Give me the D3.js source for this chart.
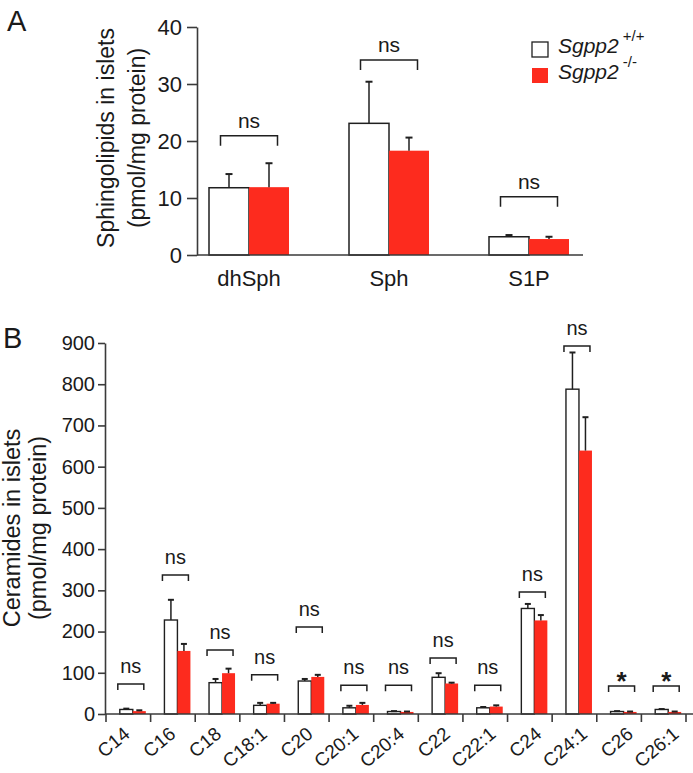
<!DOCTYPE html>
<html><head><meta charset="utf-8">
<script src="https://cdn.jsdelivr.net/npm/d3@7"></script>
<style>
body{margin:0;background:#fff;}
svg{display:block;}
text{font-family:"Liberation Sans",Arial,sans-serif;fill:#1a1a1a;}
</style></head><body>
<script>
// ---------- Panel A data ----------
const groupsA = ["dhSph", "Sph", "S1P"];
const wtA = [11.8, 23.1, 3.2];
const wtErrA = [2.4, 7.3, 0.3];
const koA = [11.9, 18.3, 2.8];
const koErrA = [4.2, 2.3, 0.4];
const bracketA = [20.9, 34.2, 10.2];
const sigA = ["ns", "ns", "ns"];
const ticksA = [0, 10, 20, 30, 40];

// ---------- Panel B data ----------
const catsB = ["C14", "C16", "C18", "C18:1", "C20", "C20:1", "C20:4", "C22", "C22:1", "C24", "C24:1", "C26", "C26:1"];
const wtB = [11, 228, 76, 21, 80, 15, 6, 89, 15, 256, 788, 6, 11];
const wtErrB = [2, 49, 9, 6, 5, 5, 1, 10, 2, 11, 89, 1, 1];
const koB = [7, 153, 99, 25, 90, 22, 5, 74, 18, 227, 639, 5, 5];
const koErrB = [2, 17, 11, 2, 5, 5, 1, 2, 3, 13, 81, 1, 1];
const bracketB = [73, 337, 155, 95, 211, 70, 70, 136, 70, 296, 893, 68, 68];
const sigB = ["ns", "ns", "ns", "ns", "ns", "ns", "ns", "ns", "ns", "ns", "ns", "*", "*"];
const ticksB = [0, 100, 200, 300, 400, 500, 600, 700, 800, 900];

const legendLabels = ["+/+", "-/-"];

const RED = "#fd2b1e";
const AX = "#3a3a3a";
const INK = "#1f1f1f";

const svg = d3.select("body").append("svg").attr("width", 693).attr("height", 773);

// ================= Panel A =================
const yA = d3.scaleLinear().domain([0, 40]).range([255, 27]);
const xA = d3.scaleBand().domain(groupsA).range([179, 599]);
const cA = g => xA(g) + xA.bandwidth() / 2;
const bwA = 40;

const gA = svg.append("g");
gA.selectAll("rect.wt").data(groupsA).join("rect")
  .attr("x", (d) => cA(d) - bwA).attr("width", bwA)
  .attr("y", (d, i) => yA(wtA[i])).attr("height", (d, i) => yA(0) - yA(wtA[i]))
  .attr("fill", "#fff").attr("stroke", INK).attr("stroke-width", 1.5);
gA.selectAll("rect.ko").data(groupsA).join("rect")
  .attr("x", (d) => cA(d)).attr("width", bwA)
  .attr("y", (d, i) => yA(koA[i])).attr("height", (d, i) => yA(0) - yA(koA[i]))
  .attr("fill", RED);
function errBar(g, cx, yTop, yErr, cap) {
  g.append("line").attr("x1", cx).attr("x2", cx).attr("y1", yTop).attr("y2", yErr)
    .attr("stroke", INK).attr("stroke-width", 1.5);
  g.append("line").attr("x1", cx - cap).attr("x2", cx + cap).attr("y1", yErr).attr("y2", yErr)
    .attr("stroke", INK).attr("stroke-width", 2);
}
groupsA.forEach((d, i) => {
  errBar(gA, cA(d) - bwA / 2, yA(wtA[i]), yA(wtA[i] + wtErrA[i]), 3.5);
  errBar(gA, cA(d) + bwA / 2, yA(koA[i]), yA(koA[i] + koErrA[i]), 3.5);
});
const axA = gA.append("g").attr("transform", "translate(197,0)")
  .call(d3.axisLeft(yA).tickValues(ticksA).tickSize(10).tickSizeOuter(0).tickPadding(5));
axA.select(".domain").attr("stroke", AX).attr("stroke-width", 1.6);
axA.selectAll(".tick line").attr("stroke", AX).attr("stroke-width", 1.6);
axA.selectAll(".tick text").attr("font-size", 22).attr("font-family", "Liberation Sans, Arial, sans-serif").attr("fill", "#1a1a1a");
gA.append("line").attr("x1", 197).attr("x2", 583).attr("y1", yA(0)).attr("y2", yA(0))
  .attr("stroke", AX).attr("stroke-width", 1.6);
gA.selectAll("text.cat").data(groupsA).join("text")
  .attr("x", d => cA(d)).attr("y", 286).attr("text-anchor", "middle").attr("font-size", 22).text(d => d);
groupsA.forEach((d, i) => {
  const cx = cA(d), yb = yA(bracketA[i]), hw = 28.5;
  gA.append("path").attr("d", `M${cx - hw},${yb + 10}V${yb}H${cx + hw}V${yb + 10}`)
    .attr("fill", "none").attr("stroke", INK).attr("stroke-width", 1.5);
  gA.append("text").attr("x", cx).attr("y", yb - 8).attr("text-anchor", "middle")
    .attr("font-size", 21).text(sigA[i]);
});
gA.append("text").attr("transform", "translate(114,138) rotate(-90)").attr("text-anchor", "middle")
  .attr("font-size", 23).text("Sphingolipids in islets");
gA.append("text").attr("transform", "translate(145,138) rotate(-90)").attr("text-anchor", "middle")
  .attr("font-size", 23).text("(pmol/mg protein)");
svg.append("text").attr("x", 7).attr("y", 31).attr("font-size", 29).text("A");
const legY = [42, 68];
legendLabels.forEach((lab, i) => {
  svg.append("rect").attr("x", 532).attr("y", legY[i]).attr("width", 16).attr("height", 15)
    .attr("fill", i === 0 ? "#fff" : RED).attr("stroke", i === 0 ? INK : "none").attr("stroke-width", 1.3);
  const t = svg.append("text").attr("x", 558).attr("y", legY[i] + 11).attr("font-size", 21);
  t.append("tspan").attr("font-style", "italic").text("Sgpp2");
  t.append("tspan").attr("dx", 4).attr("dy", -12).attr("font-size", 15).text(lab);
});

// ================= Panel B =================
const yB = d3.scaleLinear().domain([0, 900]).range([714, 343]);
const xB = d3.scaleBand().domain(catsB).range([106, 686]);
const xLab = d3.scalePoint().domain(catsB).range([131, 680]);
const cB = c => xB(c) + xB.bandwidth() / 2 + 4.5;
const bwB = 13;
const gB = svg.append("g");

gB.selectAll("rect.wt").data(catsB).join("rect")
  .attr("x", d => cB(d) - bwB).attr("width", bwB)
  .attr("y", (d, i) => yB(wtB[i])).attr("height", (d, i) => yB(0) - yB(wtB[i]))
  .attr("fill", "#fff").attr("stroke", INK).attr("stroke-width", 1.4);
gB.selectAll("rect.ko").data(catsB).join("rect")
  .attr("x", d => cB(d)).attr("width", bwB)
  .attr("y", (d, i) => yB(koB[i])).attr("height", (d, i) => yB(0) - yB(koB[i]))
  .attr("fill", RED);
catsB.forEach((d, i) => {
  errBar(gB, cB(d) - bwB / 2, yB(wtB[i]), yB(wtB[i] + wtErrB[i]), 3);
  errBar(gB, cB(d) + bwB / 2, yB(koB[i]), yB(koB[i] + koErrB[i]), 3);
});
const axB = gB.append("g").attr("transform", "translate(105,0)")
  .call(d3.axisLeft(yB).tickValues(ticksB).tickSize(7).tickSizeOuter(0).tickPadding(3));
axB.select(".domain").attr("stroke", AX).attr("stroke-width", 1.6);
axB.selectAll(".tick line").attr("stroke", AX).attr("stroke-width", 1.6);
axB.selectAll(".tick text").attr("font-size", 20).attr("font-family", "Liberation Sans, Arial, sans-serif").attr("fill", "#1a1a1a");
gB.append("line").attr("x1", 105).attr("x2", 693).attr("y1", yB(0)).attr("y2", yB(0))
  .attr("stroke", AX).attr("stroke-width", 1.6);
const tickXs = catsB.map(c => xB(c)).concat([xB.range()[1]]);
gB.selectAll("line.xt").data(tickXs).join("line")
  .attr("x1", d => d).attr("x2", d => d).attr("y1", yB(0)).attr("y2", yB(0) + 8)
  .attr("stroke", AX).attr("stroke-width", 1.6);
gB.selectAll("text.xl").data(catsB).join("text")
  .attr("transform", d => `translate(${xLab(d)},736) rotate(-40)`)
  .attr("text-anchor", "end").attr("font-size", 19).text(d => d);
catsB.forEach((d, i) => {
  const cx = cB(d) - 2, yb = yB(bracketB[i]), hw = 13;
  gB.append("path").attr("d", `M${cx - hw},${yb + 6}V${yb}H${cx + hw}V${yb + 6}`)
    .attr("fill", "none").attr("stroke", INK).attr("stroke-width", 1.5);
  if (sigB[i] === "*") {
    gB.append("text").attr("x", cx).attr("y", yb + 4).attr("text-anchor", "middle")
      .attr("font-size", 26).attr("font-weight", "bold").text("*");
  } else {
    gB.append("text").attr("x", cx).attr("y", yb - 11).attr("text-anchor", "middle")
      .attr("font-size", 20).text(sigB[i]);
  }
});
gB.append("text").attr("transform", "translate(20,528) rotate(-90)").attr("text-anchor", "middle")
  .attr("font-size", 23.5).text("Ceramides in islets");
gB.append("text").attr("transform", "translate(46,528) rotate(-90)").attr("text-anchor", "middle")
  .attr("font-size", 23.5).text("(pmol/mg protein)");
svg.append("text").attr("x", 3).attr("y", 348).attr("font-size", 29).text("B");
</script>
</body></html>
